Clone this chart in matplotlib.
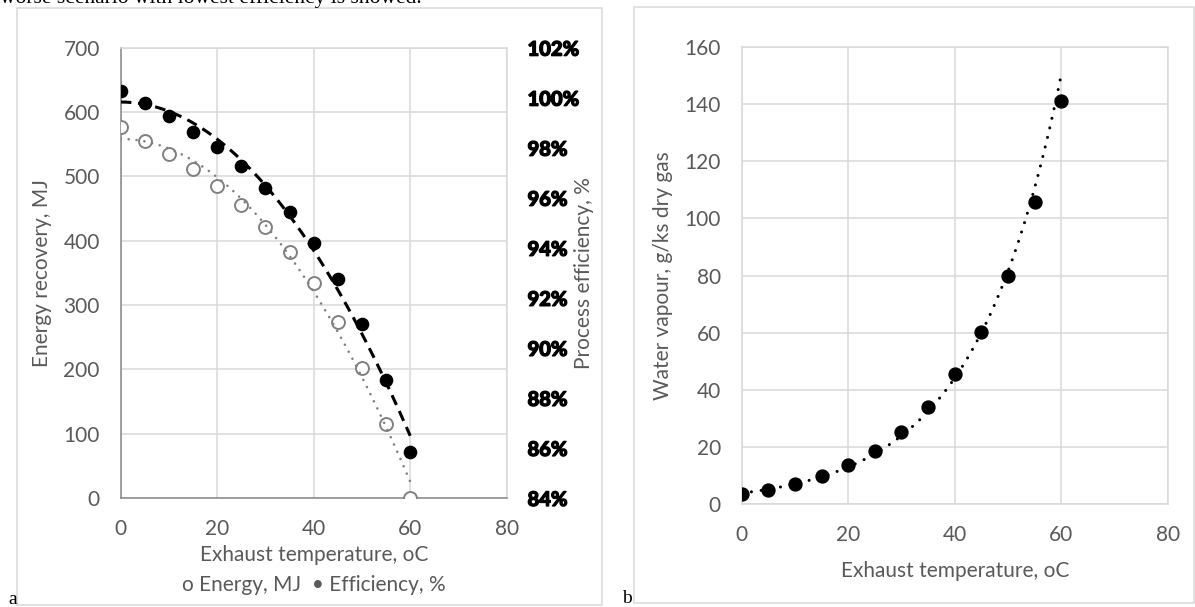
import numpy as np
import matplotlib
matplotlib.use('Agg')
import matplotlib.pyplot as plt
import matplotlib.patheffects as pe
from matplotlib import font_manager
from matplotlib.patches import Rectangle

# data
temp = [0, 5, 10, 15, 20, 25, 30, 35, 40, 45, 50, 55, 60]
energy_mj = [577, 555, 535, 511, 485.5, 455, 422, 382, 334, 274, 202.6, 114.5, 0]
efficiency_pct = [100.28, 99.78, 99.25, 98.63, 98.04, 97.28, 96.39, 95.42, 94.21, 92.74, 90.94, 88.71, 85.85]
vapour = [3.4, 5.0, 7.1, 9.8, 13.6, 18.6, 25.1, 33.8, 45.4, 60.3, 80.0, 105.9, 141.0]

energy_ticks = [0, 100, 200, 300, 400, 500, 600, 700]
eff_ticks = [84, 86, 88, 90, 92, 94, 96, 98, 100, 102]
vapour_ticks = [0, 20, 40, 60, 80, 100, 120, 140, 160]
x_ticks = [0, 20, 40, 60, 80]

installed = {f.name for f in font_manager.fontManager.ttflist}
base_font = 'Lato' if 'Lato' in installed else 'DejaVu Sans'
serif_font = 'Liberation Serif' if 'Liberation Serif' in installed else 'DejaVu Serif'

plt.rcParams['font.family'] = base_font
txt = '#595959'
grid_c = '#d9d9d9'
fs = 15

fig = plt.figure(figsize=(11.95, 6.07), dpi=100)
W, H = 1195, 607

def px_axes(x0, x1, ytop, ybot):
    return fig.add_axes([x0 / W, 1 - ybot / H, (x1 - x0) / W, (ybot - ytop) / H])

# panel frames
for (x0, x1, y0, y1) in [(17, 602, 8, 605), (634, 1194, 7, 603)]:
    fig.add_artist(Rectangle((x0 / W, 1 - y1 / H), (x1 - x0) / W, (y1 - y0) / H,
                             transform=fig.transFigure, fill=False, ec=grid_c, lw=1.1))

# caption line of the page above the figure (cut by the top edge, as in the source)
fig.text(0.0, 1 - 3 / H, 'worse scenario with lowest efficiency is showed.',
         family=serif_font, fontsize=15.5, va='baseline', ha='left', color='black')
fig.text(8 / W, 1 - 604 / H, 'a', family=serif_font, fontsize=14, va='baseline')
fig.text(622 / W, 1 - 603 / H, 'b', family=serif_font, fontsize=14, va='baseline')

# ---- panel a ----
ax = px_axes(120.7, 506.7, 47.7, 498)
ax.set_xlim(0, 80)
ax.set_ylim(0, 700)
ax.set_xticks(x_ticks)
ax.set_yticks(energy_ticks)
ax.grid(True, color=grid_c, lw=1.1)
ax.set_axisbelow(True)
ax.tick_params(length=0, labelsize=fs, labelcolor=txt, pad=15)
for s in ['top', 'right']:
    ax.spines[s].set_color(grid_c)
    ax.spines[s].set_linewidth(1.1)
for s in ['left', 'bottom']:
    ax.spines[s].set_color('#868686')
    ax.spines[s].set_linewidth(1.1)

ax.plot(temp, energy_mj, 'o', ms=9.3, mfc='white', mec='#808080', mew=1.4, zorder=3)
c_e = np.polyfit(temp, energy_mj, 2)
xt = np.linspace(0, 60, 200)
ax.plot(xt, np.polyval(c_e, xt), color='#808080', lw=1.9, ls=(0, (0.01, 3.0)),
        dash_capstyle='round', zorder=4)

ax.set_xlabel('Exhaust temperature, oC', fontsize=fs, color=txt, va='center')
ax.xaxis.set_label_coords(0.5, -0.1266)
ax.set_ylabel('Energy recovery, MJ', fontsize=fs, color=txt, va='center')
ax.yaxis.set_label_coords(-0.204, 0.5)
ax.text(0.5, -0.193, 'o Energy, MJ  \u2022 Efficiency, %', transform=ax.transAxes,
        fontsize=fs, color=txt, ha='center', va='center')

ax2 = ax.twinx()
ax2.set_ylim(84, 102)
ax2.set_yticks(eff_ticks)
ax2.set_yticklabels([f'{v}%' for v in eff_ticks], fontweight=900, fontsize=14.5, color='black')
for lab in ax2.get_yticklabels():
    lab.set_path_effects([pe.withStroke(linewidth=0.9, foreground='black')])
ax2.tick_params(length=0, pad=15)
for s in ax2.spines.values():
    s.set_visible(False)
ax2.plot(temp, efficiency_pct, 'o', ms=8.8, color='black', zorder=3)
c_p = np.polyfit(temp, efficiency_pct, 2)
ax2.plot(xt, np.polyval(c_p, xt), color='black', lw=2.2, dashes=(3.5, 2.2), zorder=4)
ax2.set_ylabel('Process efficiency, %', fontsize=fs, color=txt, va='center', rotation=90)
ax2.yaxis.set_label_coords(1.200, 0.5)

# ---- panel b ----
bx = px_axes(741.7, 1167.7, 47, 504)
bx.set_xlim(0, 80)
bx.set_ylim(0, 160)
bx.set_xticks(x_ticks)
bx.set_yticks(vapour_ticks)
bx.grid(True, color=grid_c, lw=1.1)
bx.set_axisbelow(True)
bx.tick_params(length=0, labelsize=fs, labelcolor=txt, pad=15)
for s in bx.spines.values():
    s.set_color(grid_c)
    s.set_linewidth(1.1)

bx.plot(temp, vapour, 'o', ms=9.3, color='black', zorder=3)
k = np.polyfit(temp, np.log(vapour), 1)
bx.plot(xt, np.exp(np.polyval(k, xt)), color='black', lw=2.2, ls=(0, (0.01, 3.2)),
        dash_capstyle='round', zorder=4)

bx.set_xlabel('Exhaust temperature, oC', fontsize=fs, color=txt, va='center')
bx.xaxis.set_label_coords(0.5, -0.1466)
bx.set_ylabel('Water vapour, g/ks dry gas', fontsize=fs, color=txt, va='center')
bx.yaxis.set_label_coords(-0.1847, 0.5)

fig.savefig('out.png', dpi=100)
